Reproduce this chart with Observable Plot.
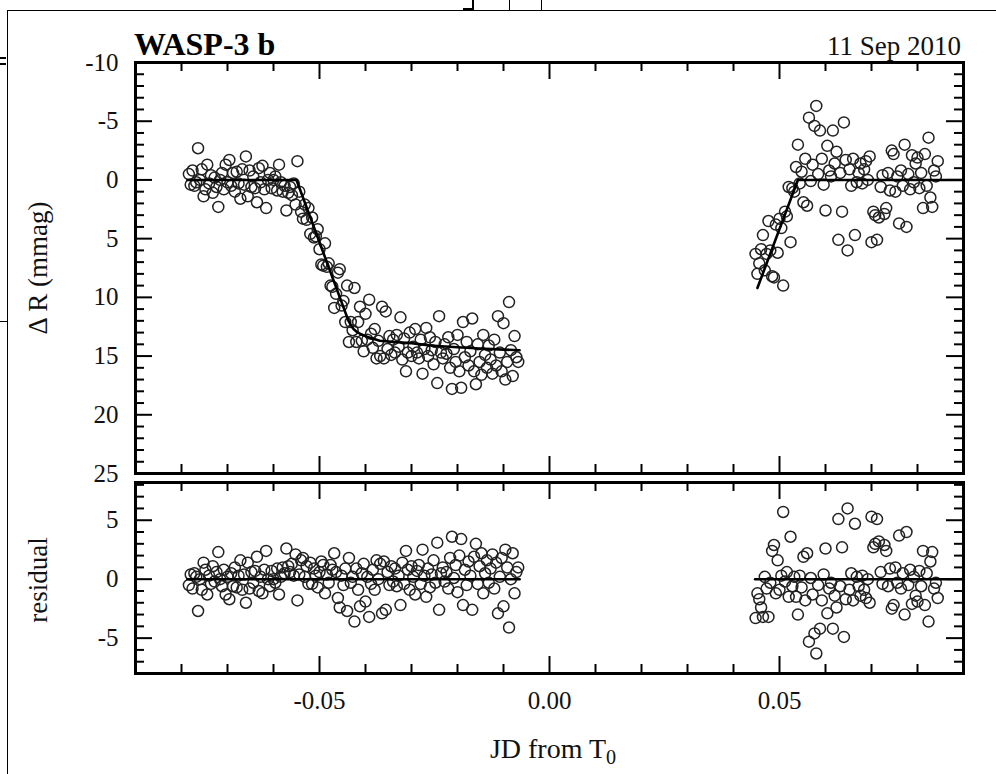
<!DOCTYPE html>
<html><head><meta charset="utf-8">
<script src="https://cdn.jsdelivr.net/npm/d3@7"></script>
<script src="https://cdn.jsdelivr.net/npm/@observablehq/plot@0.6"></script>
<style>
body{margin:0;background:#fff;}
#wrap{position:relative;width:996px;height:774px;overflow:hidden;font-family:"Liberation Serif","Times New Roman",serif;color:#000;background:#fff;}
#wrap svg{position:absolute;left:0;}
.t{position:absolute;white-space:nowrap;line-height:1;font-family:"Liberation Serif","Times New Roman",serif;color:#111;}
.ln{position:absolute;background:#000;}
</style></head><body><div id="wrap"></div>
<script>
// ---------- data: ingress (t, ΔR, residual) ----------
const ingressT = [
-0.0784,-0.0780,-0.0776,-0.0772,-0.0768,-0.0764,-0.0760,-0.0756,-0.0752,-0.0748,
-0.0744,-0.0740,-0.0736,-0.0732,-0.0728,-0.0724,-0.0720,-0.0716,-0.0712,-0.0708,
-0.0704,-0.0700,-0.0696,-0.0692,-0.0688,-0.0684,-0.0680,-0.0676,-0.0672,-0.0668,
-0.0664,-0.0660,-0.0656,-0.0652,-0.0648,-0.0644,-0.0640,-0.0636,-0.0632,-0.0628,
-0.0624,-0.0620,-0.0616,-0.0612,-0.0608,-0.0604,-0.0600,-0.0596,-0.0592,-0.0588,
-0.0584,-0.0580,-0.0576,-0.0572,-0.0568,-0.0564,-0.0560,-0.0556,-0.0552,-0.0548,
-0.0544,-0.0540,-0.0536,-0.0532,-0.0528,-0.0524,-0.0520,-0.0516,-0.0512,-0.0508,
-0.0504,-0.0500,-0.0496,-0.0492,-0.0488,-0.0484,-0.0480,-0.0476,-0.0472,-0.0468,
-0.0464,-0.0460,-0.0456,-0.0452,-0.0448,-0.0444,-0.0440,-0.0436,-0.0432,-0.0428,
-0.0424,-0.0420,-0.0416,-0.0412,-0.0408,-0.0404,-0.0400,-0.0396,-0.0392,-0.0388,
-0.0384,-0.0380,-0.0376,-0.0372,-0.0368,-0.0364,-0.0360,-0.0356,-0.0352,-0.0348,
-0.0344,-0.0340,-0.0336,-0.0332,-0.0328,-0.0324,-0.0320,-0.0316,-0.0312,-0.0308,
-0.0304,-0.0300,-0.0296,-0.0292,-0.0288,-0.0284,-0.0280,-0.0276,-0.0272,-0.0268,
-0.0264,-0.0260,-0.0256,-0.0252,-0.0248,-0.0244,-0.0240,-0.0236,-0.0232,-0.0228,
-0.0224,-0.0220,-0.0216,-0.0212,-0.0208,-0.0204,-0.0200,-0.0196,-0.0192,-0.0188,
-0.0184,-0.0180,-0.0176,-0.0172,-0.0168,-0.0164,-0.0160,-0.0156,-0.0152,-0.0148,
-0.0144,-0.0140,-0.0136,-0.0132,-0.0128,-0.0124,-0.0120,-0.0116,-0.0112,-0.0108,
-0.0104,-0.0100,-0.0096,-0.0092,-0.0088,-0.0084,-0.0080,-0.0076,-0.0072,-0.0068];
const ingressMag = [
-0.5,0.4,-0.8,0.5,0.2,-2.7,0.0,-0.9,1.4,0.8,
-1.3,0.3,-0.4,1.1,-0.2,0.6,2.3,0.0,-0.6,0.8,
-1.3,0.2,-1.7,0.5,-0.6,1.0,-0.7,0.3,1.6,-0.9,
0.4,-2.0,1.4,-0.8,0.6,-0.3,0.7,1.9,-1.0,0.2,
-1.2,0.8,2.4,0.0,-0.6,0.7,0.0,-0.3,0.9,-1.3,
0.2,1.0,0.5,2.6,1.1,0.6,1.3,0.3,2.1,-1.6,
1.0,2.7,3.3,2.1,3.4,2.4,4.6,3.2,4.9,4.8,
4.2,5.9,7.2,7.3,5.4,7.4,7.1,9.0,9.1,10.9,
9.7,7.9,7.6,10.7,10.3,12.1,9.0,13.8,12.1,12.8,
9.2,13.8,12.1,10.8,13.7,14.6,11.4,13.6,10.2,13.1,
14.3,12.7,15.2,13.7,15.0,10.8,15.2,11.2,14.4,13.3,
14.9,13.6,14.7,13.2,14.2,11.7,15.3,13.5,16.3,14.7,
13.0,15.0,14.2,12.7,14.7,15.2,13.6,16.5,14.4,12.6,
15.0,13.4,14.5,15.7,13.8,17.3,11.6,14.7,15.2,14.0,
14.8,13.4,16.0,17.8,14.4,15.5,13.2,16.3,17.7,12.1,
15.1,13.8,15.8,14.6,11.8,16.3,17.4,14.0,15.5,16.6,
13.2,14.9,16.0,14.1,15.3,16.5,13.6,15.8,11.6,14.7,
16.3,12.2,17.0,15.5,10.4,14.5,16.7,13.3,15.1,15.5];
const ingressRes = [
-0.5,0.4,-0.8,0.5,0.2,-2.7,0.0,-0.9,1.4,0.8,
-1.3,0.3,-0.4,1.1,-0.2,0.6,2.3,0.0,-0.6,0.8,
-1.3,0.2,-1.7,0.5,-0.6,1.0,-0.7,0.3,1.6,-0.9,
0.4,-2.0,1.4,-0.8,0.6,-0.3,0.7,1.9,-1.0,0.2,
-1.2,0.8,2.4,0.0,-0.6,0.7,0.0,-0.3,0.9,-1.3,
0.2,1.0,0.5,2.6,1.1,0.6,1.3,0.3,2.1,-1.8,
0.4,1.6,1.8,0.2,1.1,-0.4,1.4,-0.4,0.9,0.3,
-0.7,0.6,1.5,1.2,-1.2,0.4,-0.3,1.2,0.8,2.2,
0.6,-1.6,-2.4,0.3,-0.5,0.9,-2.7,1.8,-0.3,0.2,
-3.6,0.9,-0.9,-2.3,0.5,1.3,-1.9,0.2,-3.2,-0.4,
0.8,-0.9,1.6,0.0,1.3,-2.9,1.5,-2.6,0.6,-0.5,
1.1,-0.2,0.9,-0.6,0.3,-2.2,1.4,-0.4,2.4,0.8,
-0.9,1.1,0.2,-1.3,0.7,1.2,-0.4,2.5,0.3,-1.5,
0.9,-0.7,0.4,1.6,-0.3,3.1,-2.6,0.5,1.0,-0.2,
0.6,-0.8,1.8,3.6,0.1,1.2,-1.1,2.0,3.4,-2.2,
0.8,-0.5,1.5,0.3,-2.6,1.9,3.0,-0.4,1.1,2.2,
-1.2,0.5,1.6,-0.3,0.9,2.1,-0.8,1.4,-2.9,0.2,
1.8,-2.3,2.5,1.0,-4.1,0.0,2.2,-1.2,0.6,1.0];

// ---------- data: egress ----------
const egressT = [
0.0448,0.0452,0.0456,0.0460,0.0464,0.0468,0.0472,0.0476,0.0480,0.0484,
0.0488,0.0492,0.0496,0.0500,0.0504,0.0508,0.0512,0.0516,0.0520,0.0524,
0.0528,0.0532,0.0536,0.0540,0.0544,0.0548,0.0552,0.0556,0.0560,0.0564,
0.0568,0.0572,0.0576,0.0580,0.0584,0.0588,0.0592,0.0596,0.0600,0.0604,
0.0608,0.0612,0.0616,0.0620,0.0624,0.0628,0.0632,0.0636,0.0640,0.0644,
0.0648,0.0652,0.0656,0.0660,0.0664,0.0668,0.0672,0.0676,0.0680,0.0684,
0.0688,0.0692,0.0696,0.0700,0.0704,0.0708,0.0712,0.0716,0.0720,0.0724,
0.0728,0.0732,0.0736,0.0740,0.0744,0.0748,0.0752,0.0756,0.0760,0.0764,
0.0768,0.0772,0.0776,0.0780,0.0784,0.0788,0.0792,0.0796,0.0800,0.0804,
0.0808,0.0812,0.0816,0.0820,0.0824,0.0828,0.0832,0.0836,0.0840,0.0844];
const egressMag = [
6.3,8.0,7.1,5.9,4.7,7.7,6.3,3.5,6.0,8.2,
8.3,3.8,6.2,3.3,4.1,9.0,2.7,3.1,0.6,5.3,
0.7,1.0,-1.1,-3.0,0.3,-0.7,1.9,-1.8,2.2,-5.3,
0.1,-1.3,-4.6,-6.3,-0.5,-4.2,-1.8,0.4,2.6,-2.9,
-0.8,-0.3,-4.2,-1.4,-2.4,5.1,-0.6,2.7,-4.9,-1.7,
6.0,-0.9,0.5,-1.8,4.7,0.2,-0.6,-1.4,0.3,-0.9,
-1.6,0.0,-2.0,5.3,2.7,3.0,5.1,3.2,0.6,-0.4,
2.9,2.4,-0.6,0.9,-2.5,-2.2,1.0,-0.3,3.7,-0.8,
0.5,-3.0,4.0,-0.5,0.8,-2.1,0.2,-1.4,-1.9,0.7,
-0.6,2.4,-2.2,0.5,-3.6,1.5,2.3,-0.8,-0.3,-1.6];
const egressRes = [
-3.3,-1.2,-1.7,-2.4,-3.2,0.2,-0.8,-3.2,-0.3,2.4,
2.9,-1.2,1.6,-0.9,0.3,5.7,-0.2,0.6,-1.5,3.6,
-0.6,0.2,-1.5,-3.0,0.3,-0.7,1.9,-1.8,2.2,-5.3,
0.1,-1.3,-4.6,-6.3,-0.5,-4.2,-1.8,0.4,2.6,-2.9,
-0.8,-0.3,-4.2,-1.4,-2.4,5.1,-0.6,2.7,-4.9,-1.7,
6.0,-0.9,0.5,-1.8,4.7,0.2,-0.6,-1.4,0.3,-0.9,
-1.6,0.0,-2.0,5.3,2.7,3.0,5.1,3.2,0.6,-0.4,
2.9,2.4,-0.6,0.9,-2.5,-2.2,1.0,-0.3,3.7,-0.8,
0.5,-3.0,4.0,-0.5,0.8,-2.1,0.2,-1.4,-1.9,0.7,
-0.6,2.4,-2.2,0.5,-3.6,1.5,2.3,-0.8,-0.3,-1.6];

// ---------- model curve ----------
const modelInT = [-0.0787,-0.0550,-0.0437,-0.0432,-0.0426,-0.0420,-0.0412,-0.0400,-0.0385,-0.0369,-0.0340,-0.0300,-0.0260,-0.0200,-0.0152,-0.0100,-0.0065];
const modelInY = [0,0,12.0,12.35,12.7,12.9,13.1,13.3,13.5,13.7,13.8,13.9,14.1,14.25,14.35,14.45,14.5];
const modelEgT = [0.0452,0.0540,0.0900];
const modelEgY = [9.2,0,0];
const resLineInT = [-0.0787,-0.0065];
const resLineEgT = [0.0447,0.0900];

// ---------- ticks / labels ----------
const xMajor = [-0.05,0,0.05];
const xLabels = ["-0.05","0.00","0.05"];
const xMinor = [-0.08,-0.07,-0.06,-0.04,-0.03,-0.02,-0.01,0.01,0.02,0.03,0.04,0.06,0.07,0.08];
const yTopMajor = [-10,-5,0,5,10,15,20,25];
const yTopLabels = ["-10","-5","0","5","10","15","20","25"];
const yTopMinor = [-9,-8,-7,-6,-4,-3,-2,-1,1,2,3,4,6,7,8,9,11,12,13,14,16,17,18,19,21,22,23,24];
const yResMajor = [-5,0,5];
const yResLabels = ["-5","0","5"];
const yResMinor = [-7,-6,-4,-3,-2,-1,1,2,3,4,6,7,8];

// ---------- build tables ----------
const pts = ingressT.map((t,i)=>({t, mag: ingressMag[i], res: ingressRes[i]}))
  .concat(egressT.map((t,i)=>({t, mag: egressMag[i], res: egressRes[i]})));
const modelIn = modelInT.map((t,i)=>({t, y: modelInY[i]}));
const modelEg = modelEgT.map((t,i)=>({t, y: modelEgY[i]}));
const resIn = resLineInT.map(t=>({t, y:0}));
const resEg = resLineEgT.map(t=>({t, y:0}));

const W = 996, ML = 135, MR = 33;
const FW = W - ML - MR;
const xDomain = [-0.09, 0.09];
const FONT = "Liberation Serif, Times New Roman, serif";

function frameTicks(FH, yMaj, yMin) {
  const M = 17, m = 9, sw = 2;
  return [
    Plot.tickY(yMaj, {y: d=>d, insetRight: FW-M, strokeWidth: sw}),
    Plot.tickY(yMaj, {y: d=>d, insetLeft: FW-M, strokeWidth: sw}),
    Plot.tickY(yMin, {y: d=>d, insetRight: FW-m, strokeWidth: sw}),
    Plot.tickY(yMin, {y: d=>d, insetLeft: FW-m, strokeWidth: sw}),
    Plot.tickX(xMajor, {x: d=>d, insetBottom: FH-M, strokeWidth: sw}),
    Plot.tickX(xMajor, {x: d=>d, insetTop: FH-M, strokeWidth: sw}),
    Plot.tickX(xMinor, {x: d=>d, insetBottom: FH-m, strokeWidth: sw}),
    Plot.tickX(xMinor, {x: d=>d, insetTop: FH-m, strokeWidth: sw})
  ];
}

const dotOpts = {r: 5.5, stroke: "#222", strokeWidth: 1.5, fill: "none"};

// top panel
const topH = 480, topMT = 62, topMB = 7;
const topPlot = Plot.plot({
  width: W, height: topH, marginLeft: ML, marginRight: MR, marginTop: topMT, marginBottom: topMB,
  x: {domain: xDomain, axis: null},
  y: {domain: [-10, 25], reverse: true, axis: null},
  style: {fontFamily: FONT, fontSize: "25px", background: "transparent", overflow: "visible", color: "#000"},
  marks: [
    ...frameTicks(topH - topMT - topMB, yTopMajor, yTopMinor),
    Plot.dot(pts, {x: "t", y: "mag", ...dotOpts}),
    Plot.line(modelIn, {x: "t", y: "y", stroke: "#000", strokeWidth: 2.6}),
    Plot.line(modelEg, {x: "t", y: "y", stroke: "#000", strokeWidth: 2.6}),
    Plot.text(yTopMajor, {y: d=>d, text: (d,i)=>yTopLabels[i], frameAnchor: "left", textAnchor: "end", dx: -17, fontSize: 25, fill: "#111"}),
    Plot.frame({strokeWidth: 3, stroke: "#000"})
  ]
});
topPlot.style.top = "0px";

// residual panel
const botH = 300, botMT = 8, botMB = 101;
const botPlot = Plot.plot({
  width: W, height: botH, marginLeft: ML, marginRight: MR, marginTop: botMT, marginBottom: botMB,
  x: {domain: xDomain, axis: null},
  y: {domain: [-8, 8.2], axis: null},
  style: {fontFamily: FONT, fontSize: "25px", background: "transparent", overflow: "visible", color: "#000"},
  marks: [
    ...frameTicks(botH - botMT - botMB, yResMajor, yResMinor),
    Plot.dot(pts, {x: "t", y: "res", ...dotOpts}),
    Plot.line(resIn, {x: "t", y: "y", stroke: "#000", strokeWidth: 2.6}),
    Plot.line(resEg, {x: "t", y: "y", stroke: "#000", strokeWidth: 2.6}),
    Plot.text(yResMajor, {y: d=>d, text: (d,i)=>yResLabels[i], frameAnchor: "left", textAnchor: "end", dx: -17, fontSize: 25, fill: "#111"}),
    Plot.text(xMajor, {x: d=>d, text: (d,i)=>xLabels[i], frameAnchor: "bottom", dy: 35, fontSize: 25, fill: "#111"}),
    Plot.frame({strokeWidth: 3, stroke: "#000"})
  ]
});
botPlot.style.top = "474px";

const wrap = document.getElementById("wrap");
wrap.appendChild(topPlot);
wrap.appendChild(botPlot);

function addText(html, css) {
  const d = document.createElement("div");
  d.className = "t";
  d.innerHTML = html;
  Object.assign(d.style, css);
  wrap.appendChild(d);
  return d;
}
function addLine(l, t, w, h) {
  const d = document.createElement("div");
  d.className = "ln";
  Object.assign(d.style, {left: l+"px", top: t+"px", width: w+"px", height: h+"px"});
  wrap.appendChild(d);
}

addText("WASP-3 b", {left: "134px", top: "28px", fontSize: "32px", fontWeight: "bold", color: "#000"});
addText("11 Sep 2010", {right: "35px", top: "33px", fontSize: "27px"});
addText("Δ R (mmag)", {left: "38px", top: "268px", fontSize: "27px", transform: "translate(-50%,-50%) rotate(-90deg)"});
addText("residual", {left: "38px", top: "580px", fontSize: "27px", transform: "translate(-50%,-50%) rotate(-90deg)"});
addText("JD from T<sub style=\"font-size:0.72em;vertical-align:-0.3em\">0</sub>", {left: "553px", top: "735px", fontSize: "28px", transform: "translateX(-50%)"});

// cropped neighbour-figure borders visible in the reference
addLine(7, 10, 1.3, 764);
addLine(7, 10, 989, 1.3);
addLine(0, 57, 6, 1.5);
addLine(0, 63, 6, 1.5);
addLine(0, 321, 7, 1.3);
addLine(472, 0, 2, 10);
addLine(463, 8, 10, 2);
addLine(509, 0, 1.3, 10);
addLine(541, 0, 1.3, 10);
</script>
</body></html>
